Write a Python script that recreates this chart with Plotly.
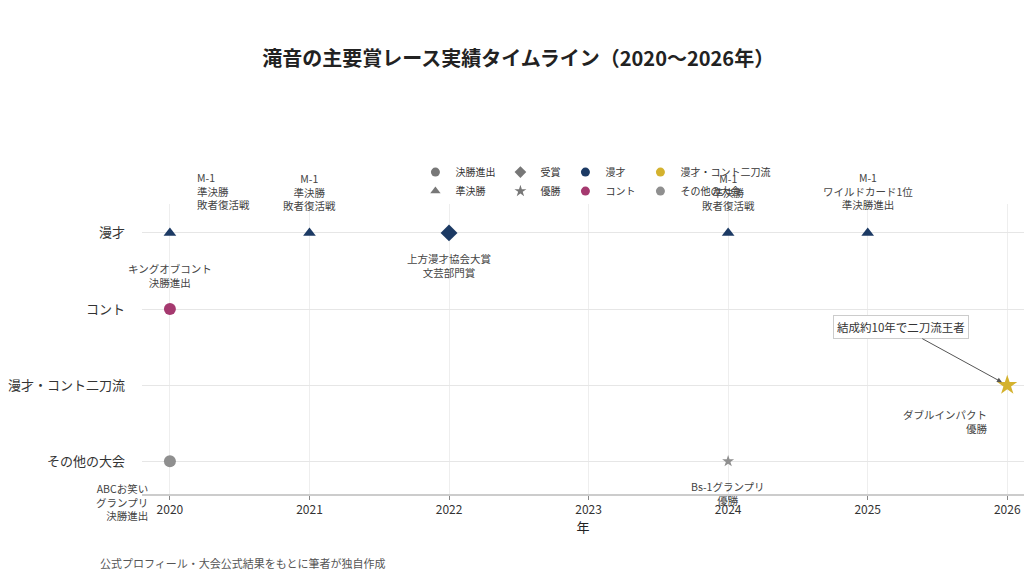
import plotly.graph_objects as go

# ---------------- data ----------------
years = [2020, 2021, 2022, 2024, 2025, 2020, 2026, 2020, 2024]
categories = ["漫才", "漫才", "漫才", "漫才", "漫才", "コント", "漫才・コント二刀流", "その他の大会", "その他の大会"]
results = ["準決勝", "準決勝", "受賞", "準決勝", "準決勝", "決勝進出", "優勝", "決勝進出", "優勝"]
labels = [
    "M-1<br>準決勝<br>敗者復活戦",
    "M-1<br>準決勝<br>敗者復活戦",
    "上方漫才協会大賞<br>文芸部門賞",
    "M-1<br>準決勝<br>敗者復活戦",
    "M-1<br>ワイルドカード1位<br>準決勝進出",
    "キングオブコント<br>決勝進出",
    "ダブルインパクト<br>優勝",
    "ABCお笑い<br>グランプリ<br>決勝進出",
    "Bs-1グランプリ<br>優勝",
]
category_order = ["漫才", "コント", "漫才・コント二刀流", "その他の大会"]
result_order = ["決勝進出", "準決勝", "受賞", "優勝"]
x_ticks = [2020, 2021, 2022, 2023, 2024, 2025, 2026]

# ---------------- styles ----------------
FONT = "Noto Sans CJK JP"
cat_color = {"漫才": "#1c3a64", "コント": "#a5396f", "漫才・コント二刀流": "#d4b22e", "その他の大会": "#8f8f8f"}
res_symbol = {"決勝進出": "circle", "準決勝": "triangle-up", "受賞": "diamond", "優勝": "star"}
res_size = {"決勝進出": 12, "準決勝": 11, "受賞": 13, "優勝": 12}
# label placement per point: (xanchor, align, xshift, yshift)
label_pos = [
    ("left", "left", 25, 42),
    ("center", "center", 0, 41),
    ("center", "center", 0, -33),
    ("center", "center", 0, 41),
    ("center", "center", 0, 42),
    ("center", "center", 0, 34),
    ("right", "right", -17, -36),
    ("right", "right", -20, -41),
    ("center", "center", 0, -32),
]

fig = go.Figure()

sizes = [res_size[r] for r in results]
sizes[6] = 15  # highlight the double-impact win
sizes[8] = 9
fig.add_trace(go.Scatter(
    x=years, y=categories, mode="markers", showlegend=False, hoverinfo="skip",
    marker=dict(symbol=[res_symbol[r] for r in results],
                color=[cat_color[c] for c in categories],
                size=sizes, opacity=1, line=dict(width=0)),
))

# legend-only entries (4 groups of 2 -> 4 columns x 2 rows)
legend_groups = [
    [("決勝進出", "circle", "#777777"), ("準決勝", "triangle-up", "#777777")],
    [("受賞", "diamond", "#777777"), ("優勝", "star", "#777777")],
    [(category_order[0], "circle", cat_color[category_order[0]]), (category_order[1], "circle", cat_color[category_order[1]])],
    [(category_order[2], "circle", cat_color[category_order[2]]), (category_order[3], "circle", cat_color[category_order[3]])],
]
for gi, grp in enumerate(legend_groups):
    for name, sym, col in grp:
        fig.add_trace(go.Scatter(
            x=[None], y=[None], mode="markers", name=name, legendgroup=f"g{gi}",
            marker=dict(symbol=sym, color=col, size=9, line=dict(width=0)),
        ))

annotations = []
for x, c, lab, (xa, al, xs, ys) in zip(years, categories, labels, label_pos):
    annotations.append(dict(
        x=x, y=c, xref="x", yref="y", text=lab, showarrow=False,
        xanchor=xa, yanchor="middle", align=al, xshift=xs, yshift=ys,
        font=dict(family=FONT, size=10.5, color="#444444"),
    ))

annotations.append(dict(
    x=2026, y="漫才・コント二刀流", xref="x", yref="y",
    text="結成約10年で二刀流王者", showarrow=True,
    ax=-106, ay=-58, arrowhead=2, arrowsize=1, arrowwidth=1, arrowcolor="#555555",
    standoff=6, bgcolor="white", bordercolor="#cccccc", borderwidth=1, borderpad=3,
    font=dict(family=FONT, size=11.5, color="#333333"),
))
annotations.append(dict(
    x=-0.05, y=-0.238, xref="paper", yref="paper", xanchor="left", yanchor="middle",
    text="公式プロフィール・大会公式結果をもとに筆者が独自作成", showarrow=False,
    font=dict(family=FONT, size=11, color="#555555"),
))

fig.update_layout(
    width=1024, height=576,
    margin=dict(l=142, r=0, t=204, b=82),
    paper_bgcolor="white", plot_bgcolor="white",
    font=dict(family=FONT, color="#333333"),
    title=dict(text="<b>滝音の主要賞レース実績タイムライン（2020〜2026年）</b>",
               x=0.506, xanchor="center", y=1 - 59 / 576, yanchor="middle",
               font=dict(family=FONT, size=20, color="#222222")),
    legend=dict(orientation="h", traceorder="grouped", x=0.31, xanchor="left",
                y=1.16, yanchor="top", font=dict(family=FONT, size=10, color="#333333"),
                bgcolor="rgba(0,0,0,0)", tracegroupgap=0, itemwidth=30),
    annotations=annotations,
    showlegend=True,
)
fig.update_xaxes(
    range=[2019.8, 2026.12], tickmode="array", tickvals=x_ticks,
    ticktext=[str(t) for t in x_ticks],
    showgrid=True, gridcolor="#eeeeee", gridwidth=1, zeroline=False,
    showline=True, linecolor="#cccccc", linewidth=2,
    ticks="outside", ticklen=4, tickcolor="#888888", tickwidth=1,
    tickfont=dict(family=FONT, size=12, color="#333333"),
    title=dict(text="年", font=dict(family=FONT, size=13, color="#222222"), standoff=6),
)
fig.update_yaxes(
    type="category", categoryorder="array", categoryarray=category_order,
    range=[3.43, -0.38], showgrid=True, gridcolor="#e6e6e6", gridwidth=1,
    zeroline=False, showline=False, ticks="", ticklabelstandoff=16,
    tickfont=dict(family=FONT, size=13, color="#333333"),
)

fig.write_html("out.html")
